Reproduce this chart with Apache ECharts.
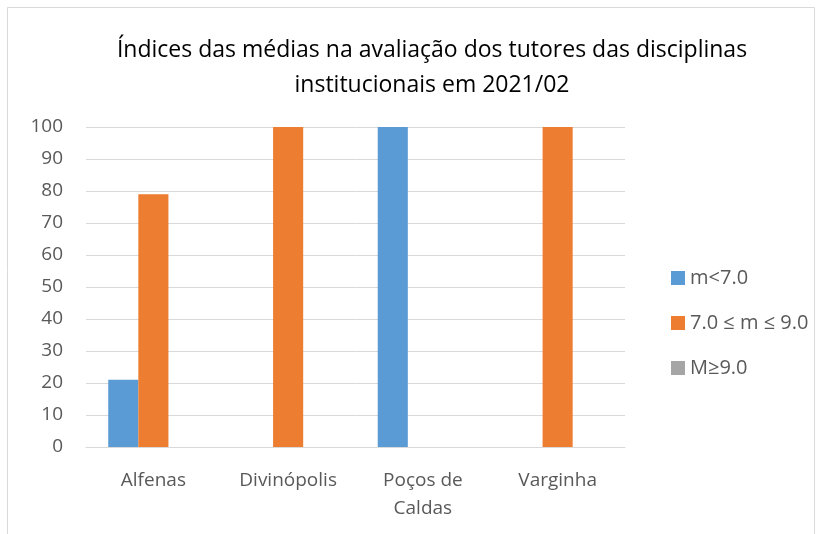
<!DOCTYPE html>
<html>
<head>
<meta charset="utf-8">
<script src="https://cdn.jsdelivr.net/npm/echarts@6/dist/echarts.min.js"></script>
<style>
  html, body { margin: 0; padding: 0; background: #fff; }
  #chart { width: 824px; height: 534px; }
</style>
</head>
<body>
<div id="chart"></div>
<script>
const categories = ["Alfenas", "Divinópolis", "Poços de\nCaldas", "Varginha"];
const seriesNames = ["m<7.0", "7.0 ≤ m ≤ 9.0", "M≥9.0"];
const lowValues = [21, 0, 100, 0];
const midValues = [79, 100, 0, 100];
const highValues = [0, 0, 0, 0];
const yTicks = { min: 0, max: 100, interval: 10 };

const font = "'Open Sans', 'Noto Sans', sans-serif";
const chart = echarts.init(document.getElementById("chart"));

chart.setOption({
  animation: false,
  textStyle: { fontFamily: font },
  title: {
    text: "Índices das médias na avaliação dos tutores das disciplinas\ninstitucionais em 2021/02",
    left: 427,
    textAlign: "center",
    top: 28,
    textStyle: { fontFamily: font, fontSize: 23, fontWeight: "normal", color: "#000", lineHeight: 35 }
  },
  graphic: [{
    type: "rect",
    shape: { x: 7.5, y: 7.5, width: 807, height: 540 },
    style: { fill: "none", stroke: "#d9d9d9", lineWidth: 1 }
  }],
  legend: {
    orient: "vertical",
    left: 666,
    top: 263,
    itemWidth: 14,
    itemHeight: 14,
    itemGap: 25,
    icon: "rect",
    textStyle: { fontFamily: font, fontSize: 20, lineHeight: 20, color: "#595959" },
    data: seriesNames
  },
  grid: { left: 86, right: 199, top: 127, bottom: 87 },
  xAxis: {
    type: "category",
    data: categories,
    axisLine: { lineStyle: { color: "#d9d9d9", width: 1 } },
    axisTick: { show: false },
    axisLabel: { fontFamily: font, fontSize: 19, color: "#595959", margin: 20, lineHeight: 28, interval: 0 }
  },
  yAxis: {
    type: "value",
    min: yTicks.min,
    max: yTicks.max,
    interval: yTicks.interval,
    axisLine: { show: false },
    axisTick: { show: false },
    splitLine: { lineStyle: { color: "#d9d9d9", width: 1 } },
    axisLabel: { fontFamily: font, fontSize: 19, color: "#595959", margin: 23 }
  },
  series: [
    { name: seriesNames[0], type: "bar", data: lowValues, barGap: "0%", barCategoryGap: "33%",
      itemStyle: { color: "#5b9bd5" } },
    { name: seriesNames[1], type: "bar", data: midValues, barGap: "0%", barCategoryGap: "33%",
      itemStyle: { color: "#ed7d31" } },
    { name: seriesNames[2], type: "bar", data: highValues, barGap: "0%", barCategoryGap: "33%",
      itemStyle: { color: "#a5a5a5" } }
  ]
});
</script>
</body>
</html>
